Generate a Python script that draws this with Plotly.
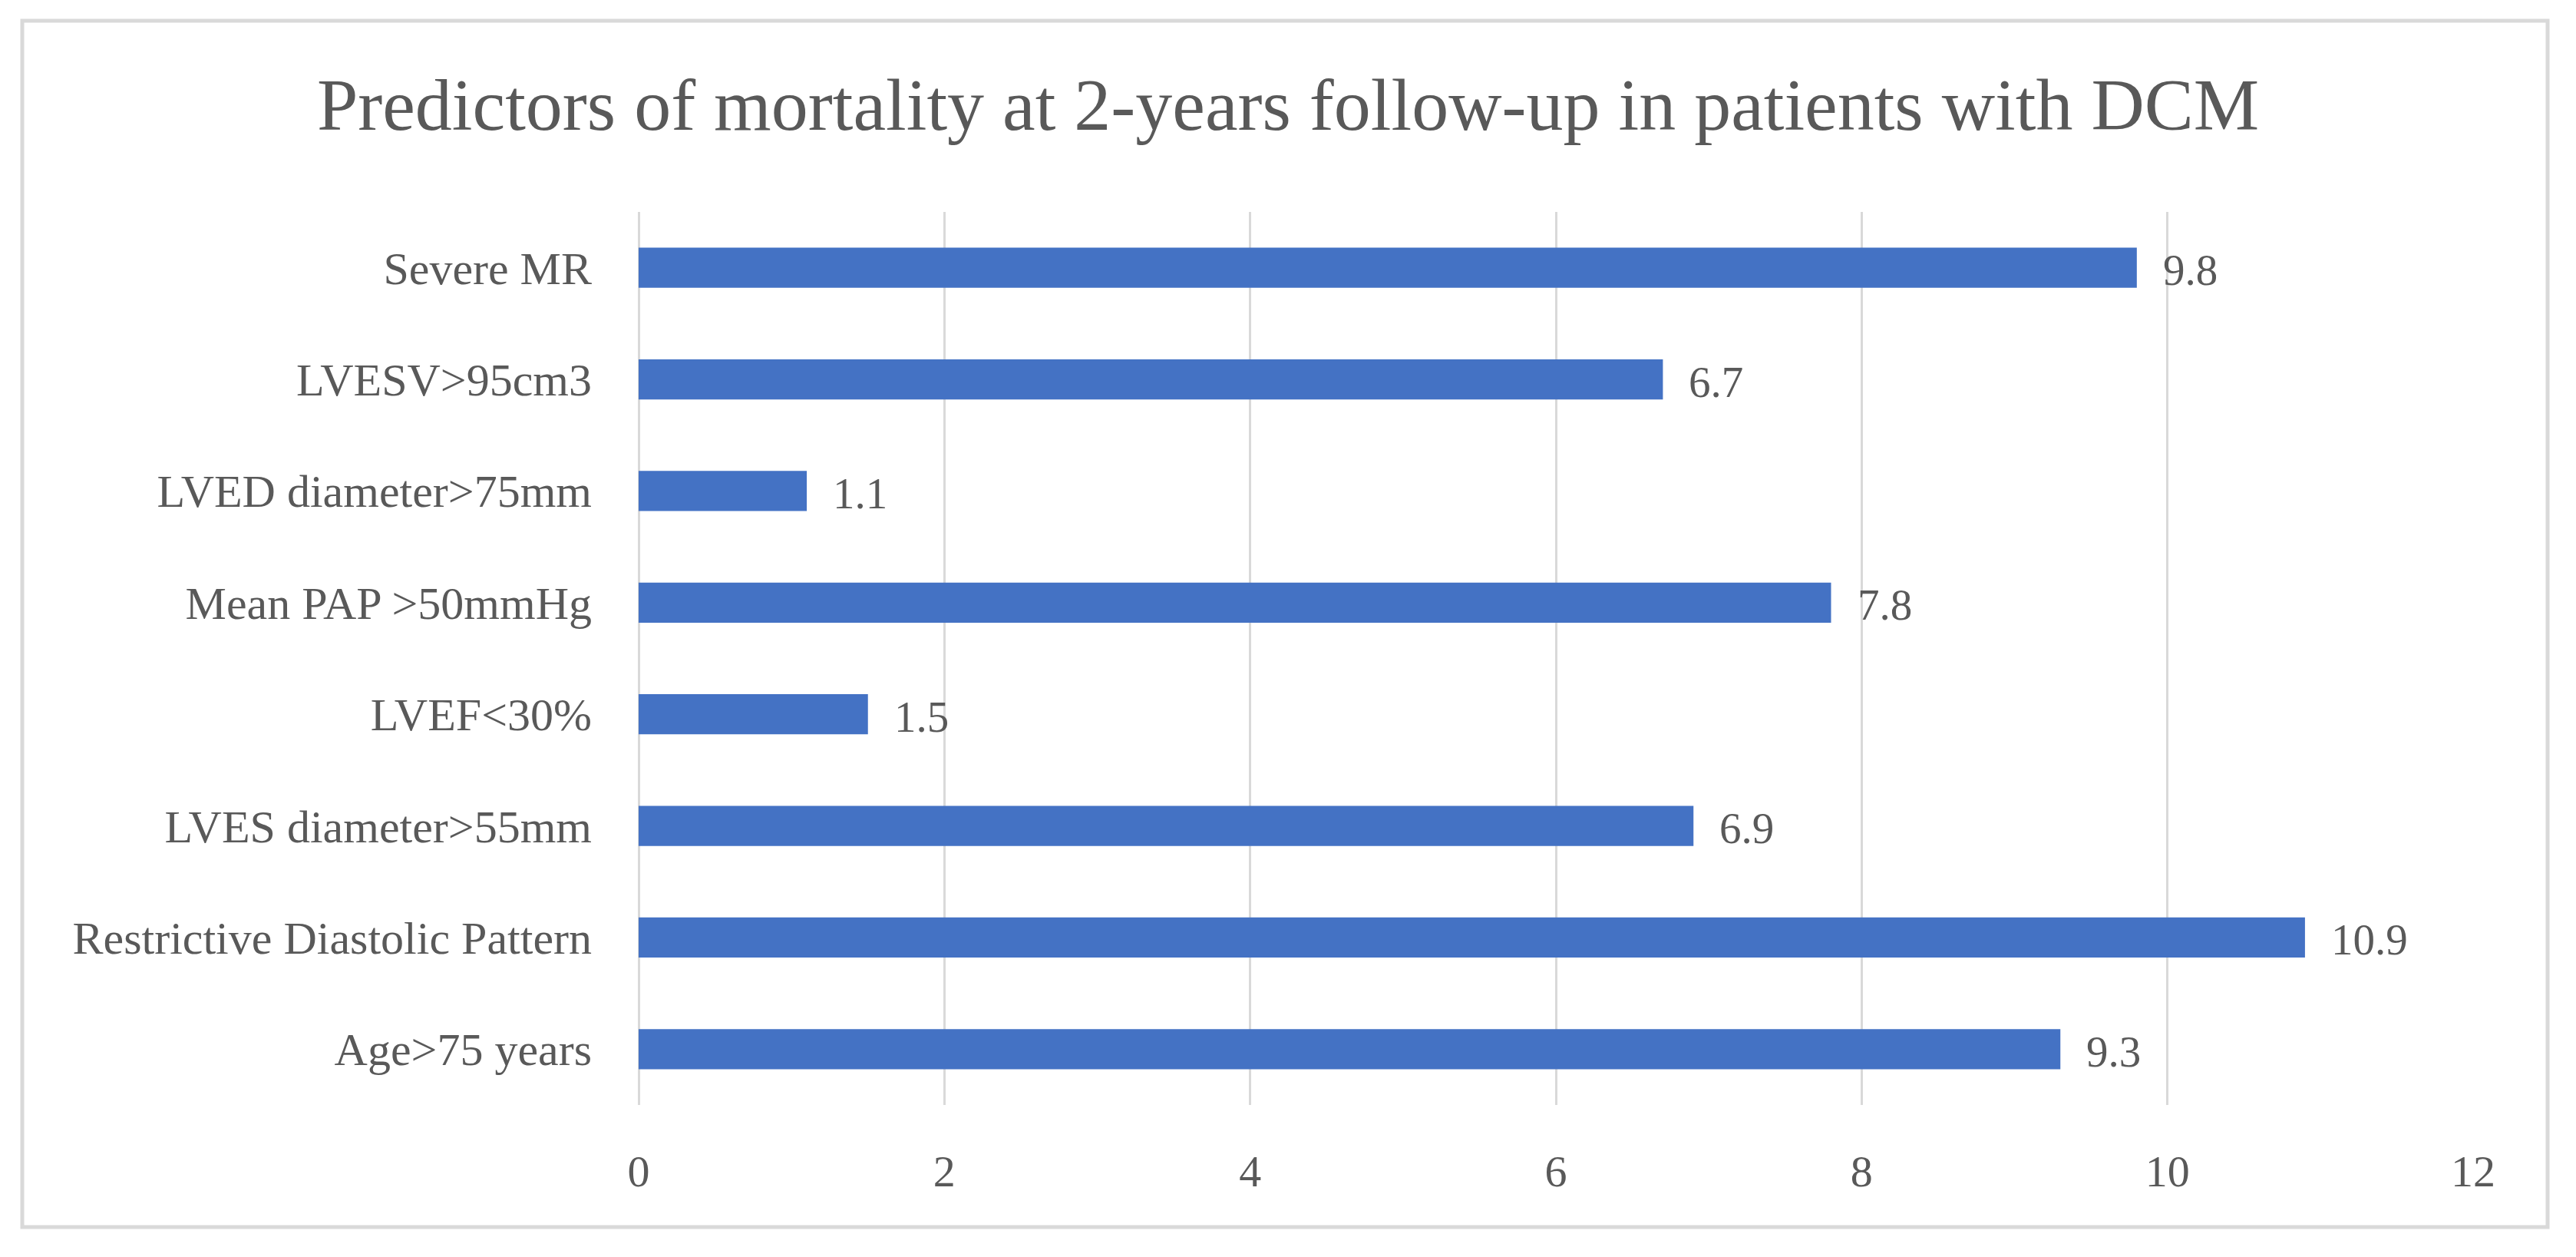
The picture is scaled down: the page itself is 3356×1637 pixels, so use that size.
import plotly.graph_objects as go

categories = ["Age>75 years", "Restrictive Diastolic Pattern", "LVES diameter>55mm",
              "LVEF<30%", "Mean PAP >50mmHg", "LVED diameter>75mm",
              "LVESV>95cm3", "Severe MR"]
values = [9.3, 10.9, 6.9, 1.5, 7.8, 1.1, 6.7, 9.8]
x_ticks = [0, 2, 4, 6, 8, 10, 12]
title_text = "Predictors of mortality at 2-years follow-up in patients with DCM"

W, H = 3356, 1637
L, R, T, B = 832, 134, 276, 198
FONT = "Liberation Serif"
GREY = "#595959"

fig = go.Figure()
fig.add_trace(go.Bar(
    y=categories, x=values, orientation="h",
    marker=dict(color="#4472C4", line=dict(width=0)),
    showlegend=False, hoverinfo="x+y",
))

for c, v in zip(categories, values):
    fig.add_annotation(x=v, y=c, xref="x", yref="y", text=f"{v:.1f}",
                       showarrow=False, xanchor="left", xshift=32, yshift=-3,
                       font=dict(family=FONT, size=57, color=GREY))

pw = W - L - R
ph = H - T - B
# outer border
bx0, bx1, by0, by1 = 29, 3319, 27, 1598
fig.add_shape(type="rect", xref="paper", yref="paper",
              x0=(bx0 - L) / pw, x1=(bx1 - L) / pw,
              y0=(H - B - by1) / ph, y1=(H - B - by0) / ph,
              line=dict(color="#D9D9D9", width=5), fillcolor="rgba(0,0,0,0)", layer="below")

fig.update_layout(
    width=W, height=H,
    margin=dict(l=L, r=R, t=T, b=B, autoexpand=False),
    paper_bgcolor="white", plot_bgcolor="white",
    bargap=0.64,
    title=dict(text=title_text, x=0.5, xref="container", xanchor="center",
               y=1 - 135 / H, yref="container", yanchor="middle",
               font=dict(family=FONT, size=96, color=GREY)),
    xaxis=dict(range=[0, 12], tickvals=x_ticks, ticktext=[str(t) for t in x_ticks],
               showgrid=True, gridcolor="#D9D9D9", gridwidth=3,
               zeroline=True, zerolinecolor="#D9D9D9", zerolinewidth=3,
               showline=False, ticks="", ticklabelstandoff=47,
               tickfont=dict(family=FONT, size=58, color=GREY), fixedrange=True),
    yaxis=dict(categoryorder="array", categoryarray=categories,
               showgrid=False, zeroline=False, showline=False, ticks="",
               ticklabelstandoff=60,
               tickfont=dict(family=FONT, size=60, color=GREY), fixedrange=True),
)

fig.write_html("out.html", config={"displayModeBar": False},
               post_script="document.body.style.margin='0';document.body.style.overflow='hidden';")
